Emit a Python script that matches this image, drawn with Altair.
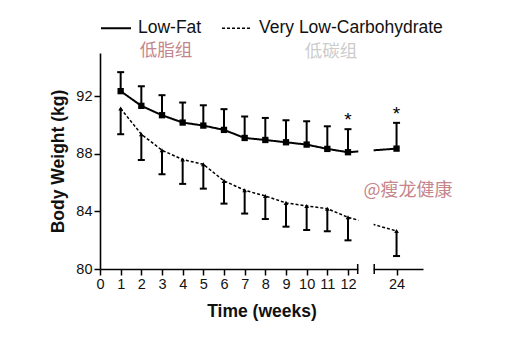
import altair as alt
import pandas as pd

# ---------------- data ----------------
weeks = [1, 2, 3, 4, 5, 6, 7, 8, 9, 10, 11, 12, 24]
lf_mean = [92.35, 91.33, 90.68, 90.17, 89.96, 89.66, 89.10, 88.96, 88.80, 88.64, 88.34, 88.11, 88.36]
lf_upper = [93.67, 92.69, 92.07, 91.56, 91.37, 91.10, 90.59, 90.49, 90.33, 90.26, 89.91, 89.71, 90.15]
vlc_mean = [91.14, 89.36, 88.25, 87.60, 87.27, 86.12, 85.47, 85.07, 84.59, 84.38, 84.19, 83.59, 82.64]
vlc_lower = [89.36, 87.57, 86.58, 85.91, 85.58, 84.54, 83.85, 83.47, 82.94, 82.71, 82.62, 81.99, 80.90]
series_names = ["Low-Fat", "Very Low-Carbohydrate"]
x_tick_weeks = [0, 1, 2, 3, 4, 5, 6, 7, 8, 9, 10, 11, 12, 24]
y_ticks = [80, 84, 88, 92]
star_weeks = [12, 24]
group_labels = ["低脂组", "低碳组"]
watermark = ["@瘦龙健康"]

# ---------------- layout of the broken x axis ----------------
BREAK_POS = {24: 14.35}          # week 24 drawn after the axis break
BREAK_L, BREAK_R = 12.47, 13.27  # gap in the axis
X_MAX = 15.63


def pos(w):
    return BREAK_POS.get(w, w)


rows = []
for w, m, b in zip(weeks, lf_mean, lf_upper):
    rows.append(dict(series=series_names[0], week=w, x=pos(w), mean=m, bound=b))
for w, m, b in zip(weeks, vlc_mean, vlc_lower):
    rows.append(dict(series=series_names[1], week=w, x=pos(w), mean=m, bound=b))
df = pd.DataFrame(rows)
df["grp"] = df["series"]

W, H = 323, 216
FONT = "Liberation Sans"
CJK = "Noto Sans CJK SC"

xs = alt.Scale(domain=[0, X_MAX], nice=False, zero=False)
ys = alt.Scale(domain=[80, 95], nice=False, zero=False)

label_expr = f"datum.value == {pos(24)} ? '24' : datum.label"
x_axis = alt.Axis(values=[pos(v) for v in x_tick_weeks], labelExpr=label_expr,
                  title="Time (weeks)", grid=False, tickSize=6, labelPadding=2,
                  titlePadding=12, labelFlush=False, labelOverlap=False)
y_axis = alt.Axis(values=y_ticks, title="Body Weight (kg)", grid=False, tickSize=6,
                  labelPadding=2, titlePadding=8)


def X(field="x"):
    return alt.X(f"{field}:Q", scale=xs, axis=x_axis)


def Y(field="mean"):
    return alt.Y(f"{field}:Q", scale=ys, axis=y_axis)


base = alt.Chart(df)

lines = base.mark_line(color="black").encode(
    x=X(), y=Y(),
    strokeDash=alt.StrokeDash(
        "series:N",
        scale=alt.Scale(domain=series_names, range=[[1, 0], [3, 2]]),
        legend=alt.Legend(
            title=None, orient="none", legendX=0, legendY=-41, direction="horizontal",
            symbolType="stroke", symbolSize=900, symbolStrokeWidth=1.8,
            symbolStrokeColor="black", labelFont=FONT, labelFontSize=17.5,
            labelColor="#111", labelOffset=6, columnPadding=17, padding=0,
            labelLimit=400,
        ),
    ),
    strokeWidth=alt.StrokeWidth("grp:N", scale=alt.Scale(domain=series_names, range=[2, 1.5]),
                                legend=None),
)

err = base.mark_rule(color="black", strokeWidth=2).encode(
    x=X(), y=Y(), y2="bound:Q"
)
caps = base.mark_rule(color="black", strokeWidth=2, xOffset=-3.5, x2Offset=3.5).encode(
    x=X(), x2="x:Q", y=Y("bound")
)
pts_lf = base.mark_point(filled=True, color="black", opacity=1, shape="square", size=40).encode(
    x=X(), y=Y()
).transform_filter(alt.datum.series == series_names[0])
pts_vlc = base.mark_point(filled=True, color="black", opacity=1, shape="triangle-up", size=22).encode(
    x=X(), y=Y()
).transform_filter(alt.datum.series == series_names[1])

stars = base.mark_text(text="*", font=FONT, fontSize=19, color="black", baseline="alphabetic",
                       dy=-3).encode(
    x=X(), y=Y("bound")
).transform_filter(
    alt.FieldOneOfPredicate(field="week", oneOf=star_weeks)
).transform_filter(
    alt.datum.series == series_names[0]
)

gap_df = pd.DataFrame({"x": [BREAK_L + 0.03], "b": [BREAK_R - 0.03]})
gap = alt.Chart(gap_df).mark_rect(color="white").encode(
    x=X(), x2="b:Q", y=alt.value(-2), y2=alt.value(H + 3)
)
caps_df = pd.DataFrame({"x": [BREAK_L, BREAK_R]})
endcaps = alt.Chart(caps_df).mark_rule(color="black", strokeWidth=1.5).encode(
    x=X(), y=alt.value(H - 5), y2=alt.value(H + 5)
)

lab_df = pd.DataFrame({"t": group_labels, "px": [66, 231], "py": [-2, -1],
                       "c": ["#c4858c", "#cccccc"]})
labels = alt.Chart(lab_df).mark_text(font=CJK, fontSize=17.5, baseline="middle", align="center").encode(
    text="t:N", x=alt.X("px:Q", scale=None), y=alt.Y("py:Q", scale=None),
    color=alt.Color("c:N", scale=None),
)
wm = alt.Chart(pd.DataFrame({"t": watermark})).mark_text(
    font=CJK, fontSize=18, color="#c4858c", baseline="middle", align="center"
).encode(text="t:N", x=alt.value(308), y=alt.value(138))

chart = alt.layer(lines, err, caps, pts_lf, pts_vlc, stars, gap, endcaps, labels, wm).properties(
    width=W, height=H,
    background="white",
    autosize=alt.AutoSizeParams(type="none"),
    padding={"left": 100, "top": 53, "right": 87, "bottom": 73},
).configure_view(stroke=None).configure_axis(
    labelFont=FONT, labelFontSize=14.5, labelColor="#111",
    titleFont=FONT, titleFontSize=17.5, titleFontWeight="bold", titleColor="#111",
    domainColor="black", domainWidth=1.6, tickColor="black", tickWidth=1.5,
)

chart.save("out.html", embed_options={"renderer": "svg", "actions": False})
